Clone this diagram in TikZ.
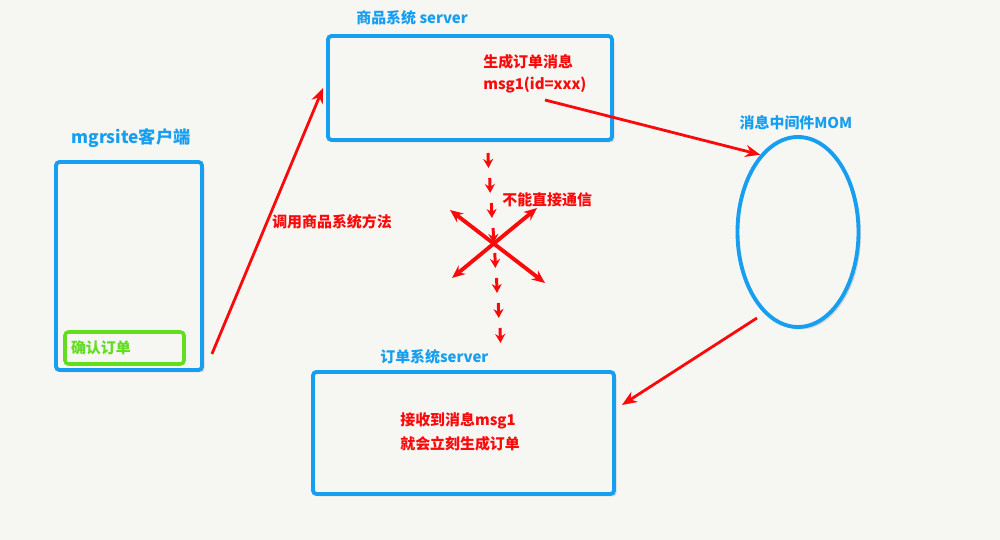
\documentclass[tikz,border=0pt]{standalone}
\usepackage{fontspec}
\setmainfont{Noto Sans CJK SC}
\usetikzlibrary{shapes.geometric, arrows.meta, positioning, calc, shadows}
\definecolor{bg}{RGB}{246,246,243}
\definecolor{mblue}{RGB}{22,158,240}
\definecolor{mred}{RGB}{250,10,10}
\definecolor{mgreen}{RGB}{98,222,30}

\begin{document}
\begin{tikzpicture}[
        sysbox/.style={rectangle, draw=mblue, line width=2.2pt, rounded corners=2pt, fill=bg, inner sep=0pt,
            drop shadow={opacity=0.25, shadow xshift=0.05cm, shadow yshift=-0.05cm}},
        orderbox/.style={rectangle, draw=mgreen, line width=2pt, rounded corners=2pt, text=mgreen, align=left,
            font=\bfseries\fontsize{8.5}{11}\selectfont, inner xsep=0.12cm, inner ysep=0pt},
        mombox/.style={ellipse, draw=mblue, line width=2.2pt, fill=bg, inner sep=0pt,
            drop shadow={opacity=0.25, shadow xshift=0.05cm, shadow yshift=-0.05cm}},
        bluelabel/.style={text=mblue, font=\bfseries\fontsize{8.5}{11}\selectfont, inner sep=0pt},
        redtext/.style={text=mred, font=\bfseries\fontsize{8.5}{12.5}\selectfont, align=left, inner sep=0pt},
        arrow/.style={-{Stealth[length=3mm, width=2.4mm]}, line width=1.6pt, draw=mred},
        crossarrow/.style={{Stealth[length=2.6mm, width=2.2mm]}-{Stealth[length=2.6mm, width=2.2mm]}, line width=2.2pt, draw=mred},
        dasharrow/.style={-{Stealth[length=1.8mm, width=2mm]}, line width=1.7pt, draw=mred}
    ]
        % Background
        \fill[bg] (0, 0) rectangle (20, 10.8);

        % Client
        \node[sysbox, minimum width=2.92cm, minimum height=4.16cm] (client) at (2.58, 5.48) {};
        \node[bluelabel, font=\bfseries\fontsize{9.8}{12}\selectfont] (clientlbl) at (2.62, 8.04) {mgrsite客户端};
        \node[orderbox, text width=2.14cm, minimum height=0.64cm] (confirm) at (2.49, 3.84) {确认订单};

        % Product server
        \node[sysbox, minimum width=5.68cm, minimum height=2.08cm] (prod) at (9.40, 9.04) {};
        \node[bluelabel, anchor=west] (prodlbl) at (7.12, 10.44) {商品系统 server};
        \node[redtext, anchor=west] (prodmsg) at (9.66, 9.32) {生成订单消息\\msg1(id=xxx)};

        % Message middleware
        \node[mombox, minimum width=2.42cm, minimum height=3.80cm] (mom) at (15.96, 6.16) {};
        \node[bluelabel] (momlbl) at (15.92, 8.34) {消息中间件MOM};

        % Order server
        \node[sysbox, minimum width=6.02cm, minimum height=2.44cm] (order) at (9.27, 2.14) {};
        \node[bluelabel, anchor=west] (orderlbl) at (7.60, 3.66) {订单系统server};
        \node[redtext, anchor=west, font=\bfseries\fontsize{8.5}{13.5}\selectfont] (ordermsg) at (8.00, 2.16) {接收到消息msg1\\就会立刻生成订单};

        % Call from client to product server
        \draw[arrow] ([shift={(0.16, 0.36)}]client.south east) -- ([xshift=-0.06cm]prod.west);
        \node[redtext] (calllbl) at (6.64, 6.36) {调用商品系统方法};

        % Message flow through MOM
        \coordinate (send) at (10.90, 8.80);
        \draw[arrow] (send) -- (mom.116);
        \coordinate (recv) at (15.14, 4.44);
        \draw[arrow] (recv) -- ([shift={(0.12, 0.56)}]order.east);

        % No direct link
        \coordinate (dtop) at (9.76, 7.74);
        \coordinate (dbot) at (10.00, 4.24);
        \foreach \i in {0,...,7}
            \draw[dasharrow] ($(dtop)!\i/7!(dbot)$) -- ++(0.01, -0.3);
        \coordinate (xa) at (9.00, 6.60);
        \coordinate (xb) at (10.90, 5.14);
        \coordinate (xc) at (9.04, 5.24);
        \coordinate (xd) at (10.74, 6.64);
        \draw[crossarrow] (xa) -- (xb);
        \draw[crossarrow] (xc) -- (xd);
        \node[redtext, anchor=west] (nolink) at (10.04, 6.80) {不能直接通信};
    \end{tikzpicture}
\end{document}
